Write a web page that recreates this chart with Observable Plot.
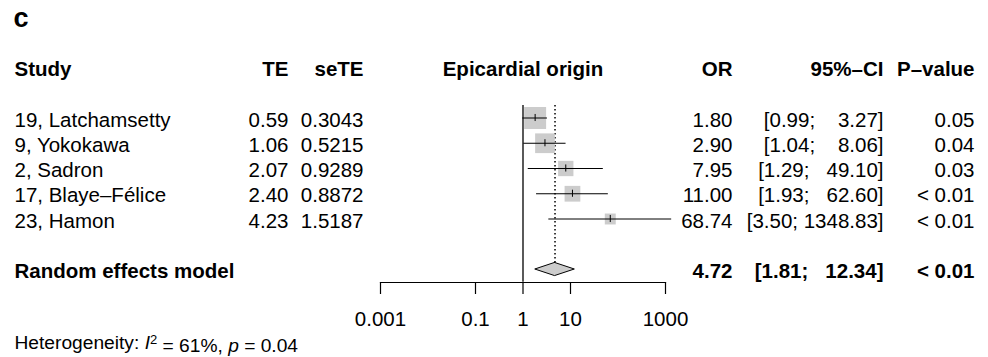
<!DOCTYPE html>
<html>
<head>
<meta charset="utf-8">
<script src="https://cdn.jsdelivr.net/npm/d3@7"></script>
<script src="https://cdn.jsdelivr.net/npm/@observablehq/plot@0.6"></script>
<style>
  html, body { margin: 0; padding: 0; background: white; }
  #chart svg { display: block; }
</style>
</head>
<body>
<div id="chart"></div>
<script>
// ---------- data ----------
const panelLabel = "c";
const studies = ["19, Latchamsetty", "9, Yokokawa", "2, Sadron", "17, Blaye\u2013F\u00e9lice", "23, Hamon"];
const te      = [0.59, 1.06, 2.07, 2.40, 4.23];
const seTE    = [0.3043, 0.5215, 0.9289, 0.8872, 1.5187];
const oddsRatio = [1.80, 2.90, 7.95, 11.00, 68.74];
const ciLower = [0.99, 1.04, 1.29, 1.93, 3.50];
const ciUpper = [3.27, 8.06, 49.10, 62.60, 1348.83];
const pValues = ["0.05", "0.04", "0.03", "< 0.01", "< 0.01"];
const reLabel = "Random effects model";
const reOR = 4.72, reLower = 1.81, reUpper = 12.34, reP = "< 0.01";
const hetI2 = 61, hetP = 0.04;
const headers = ["Study", "TE", "seTE", "Epicardial origin", "OR", "95%\u2013CI", "P\u2013value"];
const tickValues = [0.001, 0.1, 1, 10, 1000];

// ---------- layout ----------
const W = 988, H = 357, ML = 380, MR = 323, MB = 75;
const FONT = "'Liberation Sans', Arial, Helvetica, sans-serif";
const FS = 20.5;
const colX = {study: 14, te: 288, se: 363, or: 732, ci: 883, p: 974};
const TXT_DY = 2;

// random-effects weights (DerSimonian–Laird) from TE / seTE
const wf = seTE.map(s => 1 / (s * s));
const sumW = d3.sum(wf), sumW2 = d3.sum(wf, w => w * w);
const fixedMean = d3.sum(wf.map((w, i) => w * te[i])) / sumW;
const Q = d3.sum(wf.map((w, i) => w * (te[i] - fixedMean) ** 2));
const tau2 = Math.max(0, (Q - (te.length - 1)) / (sumW - sumW2 / sumW));
const wr = seTE.map(s => 1 / (s * s + tau2));

// CI string formatting (padded like R's meta)
const nb = "\u00a0";
const allLo = [...ciLower, reLower].map(v => v.toFixed(2));
const allHi = [...ciUpper, reUpper].map(v => v.toFixed(2));
const loW = d3.max(allLo, s => s.length), hiW = d3.max(allHi, s => s.length);
const fmtCI = (lo, hi) => "[" + lo.toFixed(2).padStart(loW, nb) + ";" + nb + hi.toFixed(2).padStart(hiW, nb) + "]";

const rows = studies.map((s, i) => ({
  study: s, te: te[i], se: seTE[i], or: oddsRatio[i], lo: ciLower[i], hi: ciUpper[i],
  p: pValues[i], w: wr[i], row: i + 2
}));
const reRow = 8;
const re = [{label: reLabel, or: reOR, lo: reLower, hi: reUpper, p: reP, row: reRow}];
const hd = 0.26;
const diamond = [
  {y: reRow - hd, x1: reOR, x2: reOR},
  {y: reRow, x1: reLower, x2: reUpper},
  {y: reRow + hd, x1: reOR, x2: reOR}
];

const headerCols = [
  {t: headers[0], x: colX.study, a: "start"},
  {t: headers[1], x: colX.te, a: "end"},
  {t: headers[2], x: colX.se, a: "end"},
  {t: headers[4], x: colX.or, a: "end"},
  {t: headers[5], x: colX.ci, a: "end"},
  {t: headers[6], x: colX.p, a: "end"}
];

const textCol = (data, text, x, anchor, extra = {}) =>
  Plot.text(data, {y: "row", text, frameAnchor: "left", dx: x - ML, textAnchor: anchor, dy: TXT_DY, fill: "black", ...extra});

const chart = Plot.plot({
  width: W, height: H,
  marginLeft: ML, marginRight: MR, marginTop: 0, marginBottom: MB,
  style: {fontFamily: FONT, fontSize: FS + "px", color: "black", background: "white"},
  x: {type: "log", domain: [0.001, 1000], axis: null},
  y: {domain: [0, 8], range: [67, 269], axis: null},
  r: {type: "sqrt", domain: [0, d3.max(wr)], range: [0, 12.4]},
  marks: [
    Plot.ruleX([{x: 1, y1: 1.5, y2: 8.5}], {x: "x", y1: "y1", y2: "y2", stroke: "black", strokeWidth: 1.3}),
    Plot.ruleX([{x: reOR, y1: 1.5, y2: 8}], {x: "x", y1: "y1", y2: "y2", stroke: "black", strokeWidth: 1.5, strokeDasharray: "1.5 2.5"}),
    Plot.dot(rows, {x: "or", y: "row", r: "w", symbol: "square", fill: "#cccccc", stroke: "none"}),
    Plot.ruleY(rows, {y: "row", x1: "lo", x2: "hi", stroke: "black", strokeWidth: 1}),
    Plot.ruleX(rows, {x: "or", y1: d => d.row - 0.14, y2: d => d.row + 0.14, stroke: "black", strokeWidth: 1}),
    Plot.areaX(diamond, {y: "y", x1: "x1", x2: "x2", fill: "#cccccc", stroke: "black", strokeWidth: 1}),
    Plot.frame({anchor: "bottom", stroke: "black", strokeWidth: 1.2}),
    Plot.axisX({ticks: tickValues, tickFormat: d => String(d), tickSize: 12, tickPadding: 17, anchor: "bottom", label: null, stroke: "black", fill: "black", strokeWidth: 1.2}),
    // panel label
    Plot.text([{t: panelLabel, row: -1.95}], {y: "row", text: "t", frameAnchor: "left", dx: colX.study - ML - 1, textAnchor: "start", fontWeight: "bold", fontSize: 27, fill: "black"}),
    // headers
    ...headerCols.map(h => Plot.text([{t: h.t, row: 0}], {y: "row", text: "t", frameAnchor: "left", dx: h.x - ML, textAnchor: h.a, dy: TXT_DY, fontWeight: "bold", fill: "black"})),
    Plot.text([{t: headers[3], x: 1, row: 0}], {x: "x", y: "row", text: "t", textAnchor: "middle", dy: TXT_DY, fontWeight: "bold", fill: "black"}),
    // study rows
    textCol(rows, "study", colX.study, "start"),
    textCol(rows, d => d.te.toFixed(2), colX.te, "end"),
    textCol(rows, d => d.se.toFixed(4), colX.se, "end"),
    textCol(rows, d => d.or.toFixed(2), colX.or, "end"),
    textCol(rows, d => fmtCI(d.lo, d.hi), colX.ci, "end"),
    textCol(rows, "p", colX.p, "end"),
    // random effects row
    textCol(re, "label", colX.study, "start", {fontWeight: "bold"}),
    textCol(re, d => d.or.toFixed(2), colX.or, "end", {fontWeight: "bold"}),
    textCol(re, d => fmtCI(d.lo, d.hi), colX.ci, "end", {fontWeight: "bold"}),
    textCol(re, "p", colX.p, "end", {fontWeight: "bold"}),
    // heterogeneity (rich text added below)
    Plot.text([{t: "Heterogeneity: I2 = " + hetI2 + "%, p = " + hetP, row: 10.92}], {y: "row", text: "t", frameAnchor: "left", dx: colX.study - ML, textAnchor: "start", fontSize: 19.2, fill: "black"})
  ]
});

// rich text for heterogeneity line
const NS = "http://www.w3.org/2000/svg";
for (const t of chart.querySelectorAll("text")) {
  if (t.textContent.startsWith("Heterogeneity")) {
    t.textContent = "";
    const add = (s, attrs = {}) => {
      const ts = document.createElementNS(NS, "tspan");
      for (const [k, v] of Object.entries(attrs)) ts.setAttribute(k, v);
      ts.textContent = s;
      t.appendChild(ts);
    };
    add("Heterogeneity:" + nb);
    add("I", {"font-style": "italic"});
    add("2", {dy: "-0.42em", "font-size": "13px"});
    add(nb + "=" + nb + hetI2 + "%," + nb, {dy: "0.42em"});
    add("p", {"font-style": "italic"});
    add(nb + "=" + nb + hetP);
  }
}
document.getElementById("chart").appendChild(chart);
</script>
</body>
</html>
